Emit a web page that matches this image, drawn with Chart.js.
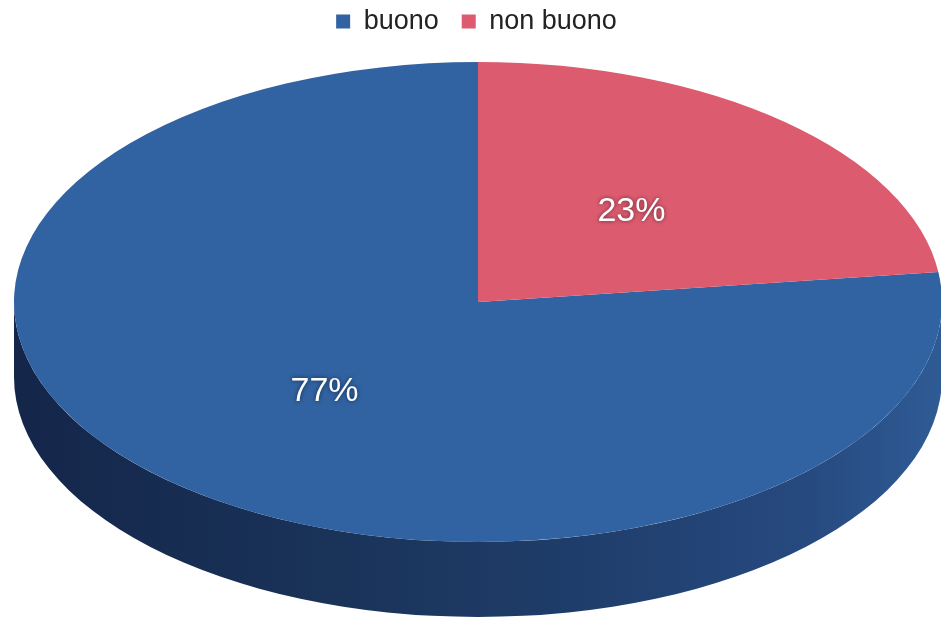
<!DOCTYPE html>
<html>
<head>
<meta charset="utf-8">
<script src="https://cdn.jsdelivr.net/npm/chart.js@4/dist/chart.umd.min.js"></script>
<style>
  html, body { margin: 0; padding: 0; background: #ffffff; }
  #wrap { width: 941px; height: 621px; position: relative; }
</style>
</head>
<body>
<div id="wrap"><canvas id="c"></canvas></div>
<script>
// ---- data ----
const categories = ['buono', 'non buono'];
const values = [77, 23];
const sliceColors = ['#3162a1', '#dc5b6f'];

// ---- 3D look parameters ----
const CX = 478, CY = 302, RX = 464, RY = 240, DEPTH = 75;
const K = RY / RX;
const totalValue = values.reduce((a, b) => a + b, 0);
// start so that the second slice ends at 12 o'clock (drawn like the original)
const startRotation = values[1] / totalValue * 360;

const pie3d = {
  id: 'pie3d',
  afterLayout(chart) {
    const lg = chart.legend;
    if (lg) { lg.top -= 15; lg.bottom -= 15; }
    chart.chartArea = {
      left: CX - RX, right: CX + RX, top: CY - RX, bottom: CY + RX,
      width: 2 * RX, height: 2 * RX
    };
  },
  beforeDatasetsDraw(chart) {
    const ctx = chart.ctx;
    ctx.save();
    ctx.translate(0, CY);
    ctx.scale(1, K);
    ctx.translate(0, -CY);
    const meta = chart.getDatasetMeta(0);
    const dv = DEPTH / K;
    const grad = ctx.createLinearGradient(CX - RX, 0, CX + RX, 0);
    grad.addColorStop(0, '#14264a');
    grad.addColorStop(0.35, '#1a3359');
    grad.addColorStop(0.6, '#1f3d6a');
    grad.addColorStop(0.85, '#26497f');
    grad.addColorStop(1, '#2f5b95');
    const redGrad = ctx.createLinearGradient(CX - RX, 0, CX + RX, 0);
    redGrad.addColorStop(0, '#6e2431');
    redGrad.addColorStop(1, '#a43d4f');
    meta.data.forEach((arc, i) => {
      const p = arc.getProps(['x', 'y', 'startAngle', 'endAngle', 'outerRadius'], true);
      const ranges = [[-2 * Math.PI, -Math.PI], [0, Math.PI], [2 * Math.PI, 3 * Math.PI]];
      ranges.forEach(([lo, hi]) => {
        const a1 = Math.max(p.startAngle, lo), a2 = Math.min(p.endAngle, hi);
        if (a2 <= a1) return;
        ctx.beginPath();
        ctx.arc(p.x, p.y, p.outerRadius, a1, a2, false);
        ctx.arc(p.x, p.y + dv, p.outerRadius, a2, a1, true);
        ctx.closePath();
        ctx.fillStyle = i === 0 ? grad : redGrad;
        ctx.fill();
      });
    });
  },
  afterDatasetsDraw(chart) {
    const ctx = chart.ctx;
    ctx.restore();
    const meta = chart.getDatasetMeta(0);
    const data = chart.data.datasets[0].data;
    const total = data.reduce((a, b) => a + b, 0);
    ctx.save();
    ctx.font = '34px "Liberation Sans", Arial, sans-serif';
    ctx.fillStyle = '#ffffff';
    ctx.textAlign = 'center';
    ctx.textBaseline = 'middle';
    ctx.shadowColor = 'rgba(0,0,0,0.55)';
    ctx.shadowBlur = 4;
    meta.data.forEach((arc, i) => {
      const p = arc.getProps(['x', 'y', 'startAngle', 'endAngle', 'outerRadius'], true);
      const mid = (p.startAngle + p.endAngle) / 2;
      const vx = p.x + Math.cos(mid) * p.outerRadius * 0.5;
      const vy = p.y + Math.sin(mid) * p.outerRadius * 0.5;
      const y = CY + (vy - CY) * K;
      ctx.fillText(Math.round(data[i] / total * 100) + '%', vx, y);
    });
    ctx.restore();
  }
};

new Chart(document.getElementById('c'), {
  type: 'pie',
  data: {
    labels: categories,
    datasets: [{
      data: values,
      backgroundColor: sliceColors,
      borderWidth: 0,
      hoverOffset: 0,
      offset: 0,
      clip: false
    }]
  },
  options: {
    responsive: true,
    maintainAspectRatio: false,
    animation: false,
    radius: '100%',
    rotation: startRotation,
    layout: { padding: { left: 12, top: 0, right: 0, bottom: 0 } },
    plugins: {
      tooltip: { enabled: false },
      legend: {
        position: 'top',
        align: 'center',
        labels: {
          boxWidth: 14,
          boxHeight: 14,
          padding: 23,
          color: '#222222',
          font: { size: 27, family: '"Liberation Sans", Arial, sans-serif' }
        }
      }
    }
  },
  plugins: [pie3d]
});
</script>
</body>
</html>
